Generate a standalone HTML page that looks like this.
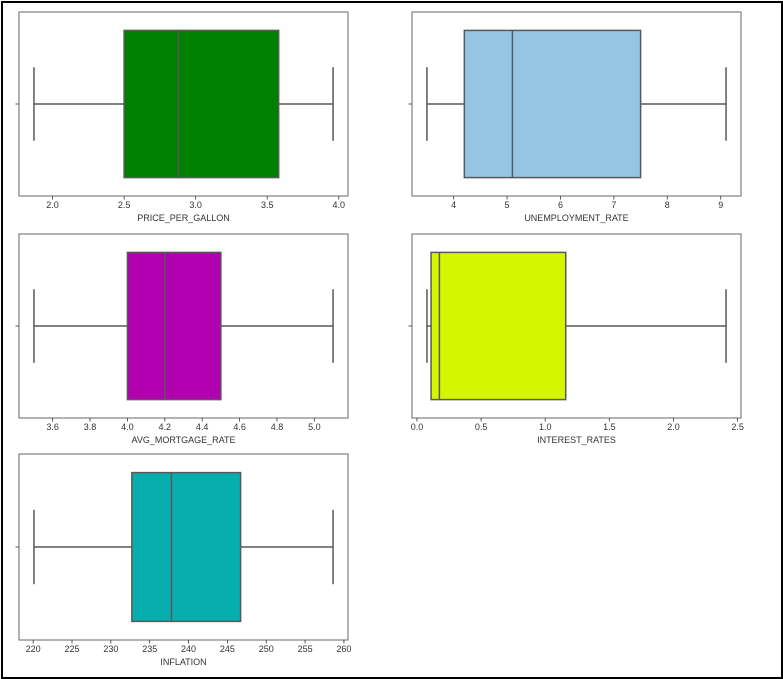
<!DOCTYPE html>
<html><head><meta charset="utf-8"><style>
html,body{margin:0;padding:0;background:#fff;}
#frame{position:absolute;left:1px;top:1px;width:778px;height:674px;border:2px solid #000;}
svg{position:absolute;left:0;top:0;}
text{font-family:"Liberation Sans",sans-serif;fill:#333;}
</style></head><body>
<div id="frame"></div>
<svg id="chart" width="783" height="679"></svg>
<script>
const labels = ["PRICE_PER_GALLON","UNEMPLOYMENT_RATE","AVG_MORTGAGE_RATE","INTEREST_RATES","INFLATION"];
const mins = [1.87, 3.5, 3.5, 0.078, 220.1];
const q1s = [2.5, 4.2, 4.0, 0.11, 232.7];
const medians = [2.88, 5.1, 4.2, 0.175, 237.8];
const q3s = [3.58, 7.5, 4.5, 1.16, 246.7];
const maxs = [3.96, 9.1, 5.1, 2.41, 258.6];
const colors = ["#008000","#95c5e3","#b000b0","#d4f700","#08adad"];
const ticks0 = [2.0,2.5,3.0,3.5,4.0];
const ticks1 = [4,5,6,7,8,9];
const ticks2 = [3.6,3.8,4.0,4.2,4.4,4.6,4.8,5.0];
const ticks3 = [0.0,0.5,1.0,1.5,2.0,2.5];
const ticks4 = [220,225,230,235,240,245,250,255,260];
const tickSets = [ticks0,ticks1,ticks2,ticks3,ticks4];
const tickDecimals = [1,0,1,1,0];
const panels = [{x:19,y:12,h:184},{x:412,y:12,h:184},{x:19,y:234,h:184},{x:412,y:234,h:184},{x:19,y:454,h:186}];
const W = 329;
const svg = document.getElementById('chart');
const NS = 'http://www.w3.org/2000/svg';
function mk(tag, attrs, parent){const e=document.createElementNS(NS,tag);for(const k in attrs)e.setAttribute(k,attrs[k]);(parent||svg).appendChild(e);return e;}
panels.forEach((p,i)=>{
  const g = mk('g',{});
  
  
  const span = maxs[i]-mins[i];
  const d0 = mins[i]-span*0.05, d1 = maxs[i]+span*0.05;
  const sx = v => p.x + (v-d0)/(d1-d0)*W;
  const cy = p.y + p.h/2;
  const bh = p.h*0.8, ch = p.h*0.4;
  const ax = mk('rect',{x:p.x,y:p.y,width:W,height:p.h,fill:'none',stroke:'#808080','stroke-width':1.2},g);
  
  
  const ec = '#595959';
  const wl = mk('line',{x1:sx(mins[i]),x2:sx(q1s[i]),y1:cy,y2:cy,stroke:ec,'stroke-width':1.5},g);
  
  
  const wh = mk('line',{x1:sx(q3s[i]),x2:sx(maxs[i]),y1:cy,y2:cy,stroke:ec,'stroke-width':1.5},g);
  
  
  [mins[i],maxs[i]].forEach(v=>{
    const c = mk('line',{x1:sx(v),x2:sx(v),y1:cy-ch/2,y2:cy+ch/2,stroke:ec,'stroke-width':1.5},g);
    
    
  });
  const b = mk('rect',{x:sx(q1s[i]),y:cy-bh/2,width:sx(q3s[i])-sx(q1s[i]),height:bh,fill:colors[i],stroke:ec,'stroke-width':1.5},g);
  
  
  const m = mk('line',{x1:sx(medians[i]),x2:sx(medians[i]),y1:cy-bh/2,y2:cy+bh/2,stroke:ec,'stroke-width':1.5},g);
  
  
  const yt = mk('line',{x1:p.x-3.5,x2:p.x,y1:cy,y2:cy,stroke:'#333','stroke-width':0.8},g);
  
  
  const by = p.y+p.h;
  tickSets[i].forEach(t=>{
    const x = sx(t);
    const tl = mk('line',{x1:x,x2:x,y1:by,y2:by+3.5,stroke:'#333','stroke-width':0.8},g);
    
    
    const tx = mk('text',{x:x,y:by+12,'font-size':9,'text-anchor':'middle'},g);
    tx.textContent = t.toFixed(tickDecimals[i]);
    
    
  });
  const xl = mk('text',{x:p.x+W/2,y:by+25,'font-size':9,'text-anchor':'middle'},g);
  xl.textContent = labels[i];
  
  
});
</script>
</body></html>
